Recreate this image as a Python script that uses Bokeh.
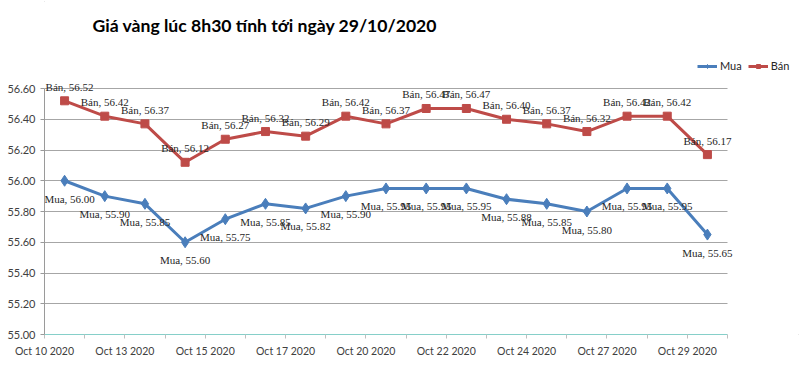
from bokeh.plotting import figure
from bokeh.models import (ColumnDataSource, LabelSet, Label, Legend, LegendItem,
                          FixedTicker, Range1d, NumeralTickFormatter, InlineStyleSheet)
from bokeh.embed import file_html
from bokeh.resources import INLINE

# ---- data ----
title_text = "Giá vàng lúc 8h30 tính tới ngày 29/10/2020"
mua = [56.00, 55.90, 55.85, 55.60, 55.75, 55.85, 55.82, 55.90, 55.95,
       55.95, 55.95, 55.88, 55.85, 55.80, 55.95, 55.95, 55.65]
ban = [56.52, 56.42, 56.37, 56.12, 56.27, 56.32, 56.29, 56.42, 56.37,
       56.47, 56.47, 56.40, 56.37, 56.32, 56.42, 56.42, 56.17]
tick_labels = ["Oct 10 2020", "", "Oct 13 2020", "", "Oct 15 2020", "",
               "Oct 17 2020", "", "Oct 20 2020", "", "Oct 22 2020", "",
               "Oct 24 2020", "", "Oct 27 2020", "", "Oct 29 2020", ""]
y_ticks = [55.00, 55.20, 55.40, 55.60, 55.80, 56.00, 56.20, 56.40, 56.60]

FONT = "Lato"
n = len(mua)
idx = list(range(n))
# nudge only the first labels so they are not clipped by the plot frame
first_dx = [5 if i == 0 else 0 for i in idx]
src = ColumnDataSource(dict(
    x=idx, mua=mua, ban=ban, dx=first_dx,
    mua_lbl=[f"Mua, {v:.2f}" for v in mua],
    ban_lbl=[f"Bán, {v:.2f}" for v in ban],
))

# ---- layout (pixels) ----
W, H = 800, 370
LEFT, BOTTOM = 44, 36          # borders holding the axes
PLOT_W, PLOT_H = 683, 246      # visible chart area (axes bounds)
frame_w = W - LEFT
frame_h = H - BOTTOM
x0, x1 = -0.5, n - 0.5
y0, y1 = y_ticks[0], y_ticks[-1]
x_end = x0 + (x1 - x0) * frame_w / PLOT_W
y_end = y0 + (y1 - y0) * frame_h / PLOT_H

p = figure(width=W, height=H, output_backend="svg", toolbar_location=None,
           x_range=Range1d(x0, x_end), y_range=Range1d(y0, y_end),
           min_border_left=LEFT, min_border_right=0, min_border_top=0,
           min_border_bottom=BOTTOM)
p.outline_line_color = None
p.background_fill_color = "white"
p.border_fill_color = "white"
p.stylesheets = [InlineStyleSheet(
    css=":host { outline: 1px solid #a6a6a6; outline-offset: -2px; }")]

# grid
p.xgrid.visible = False
p.ygrid.grid_line_color = "#a6a6a6"
p.ygrid.grid_line_width = 1
p.ygrid.cross_bounds = (x0, x1)

# y axis
p.yaxis.ticker = FixedTicker(ticks=y_ticks)
p.yaxis.bounds = (y0, y1)
p.yaxis.formatter = NumeralTickFormatter(format="0.00")
p.yaxis.axis_line_color = "#9a9a9a"
p.yaxis.major_tick_line_color = "#9a9a9a"
p.yaxis.major_tick_out = 4
p.yaxis.major_tick_in = 0
p.yaxis.minor_tick_line_color = None
p.yaxis.major_label_text_font = FONT
p.yaxis.major_label_text_font_size = "11px"
p.yaxis.major_label_text_color = "#404040"
p.yaxis.major_label_standoff = 5

# x axis
bounds = [i - 0.5 for i in range(n + 1)]
p.xaxis.ticker = FixedTicker(ticks=bounds)
p.xaxis.bounds = (x0, x1)
p.xaxis.major_label_overrides = {b: t for b, t in zip(bounds, tick_labels)}
p.xaxis.axis_line_color = "#86cfc9"
p.xaxis.major_tick_line_color = "#bfbfbf"
p.xaxis.major_tick_out = 4
p.xaxis.major_tick_in = 0
p.xaxis.minor_tick_line_color = None
p.xaxis.major_label_text_font = FONT
p.xaxis.major_label_text_font_size = "10.5px"
p.xaxis.major_label_text_color = "#404040"
p.xaxis.major_label_standoff = 6

BLUE = "#4a7ebb"
RED = "#be4b48"

l1 = p.line("x", "mua", source=src, line_color=BLUE, line_width=3)
m1 = p.scatter("x", "mua", source=src, marker="diamond", size=11,
               fill_color=BLUE, line_color=BLUE)
l2 = p.line("x", "ban", source=src, line_color=RED, line_width=3)
m2 = p.scatter("x", "ban", source=src, marker="square", size=8,
               fill_color=RED, line_color=RED)

lab_mua = LabelSet(x="x", y="mua", text="mua_lbl", source=src,
                   x_offset="dx", text_align="center", text_baseline="top",
                   y_offset=-12, text_font=FONT, text_font_size="11px",
                   text_color="#262626")
lab_ban = LabelSet(x="x", y="ban", text="ban_lbl", source=src,
                   x_offset="dx", text_align="center", text_baseline="bottom",
                   y_offset=8, text_font=FONT, text_font_size="11px",
                   text_color="#262626")
p.add_layout(lab_mua)
p.add_layout(lab_ban)

title = Label(x=48, y=309, x_units="screen", y_units="screen", text=title_text,
              text_font=FONT, text_font_size="17.6px", text_font_style="bold",
              text_baseline="middle", text_color="black")
p.add_layout(title)

legend = Legend(items=[LegendItem(label="Mua", renderers=[l1, m1]),
                       LegendItem(label="Bán", renderers=[l2, m2])],
                location=(653, 262), orientation="horizontal",
                border_line_color=None, background_fill_alpha=0,
                label_text_font=FONT, label_text_font_size="11px",
                label_text_color="#262626",
                glyph_width=20, glyph_height=10, spacing=6, padding=0,
                margin=0, label_standoff=3)
p.add_layout(legend)

open("out.html", "w").write(file_html(p, INLINE))
